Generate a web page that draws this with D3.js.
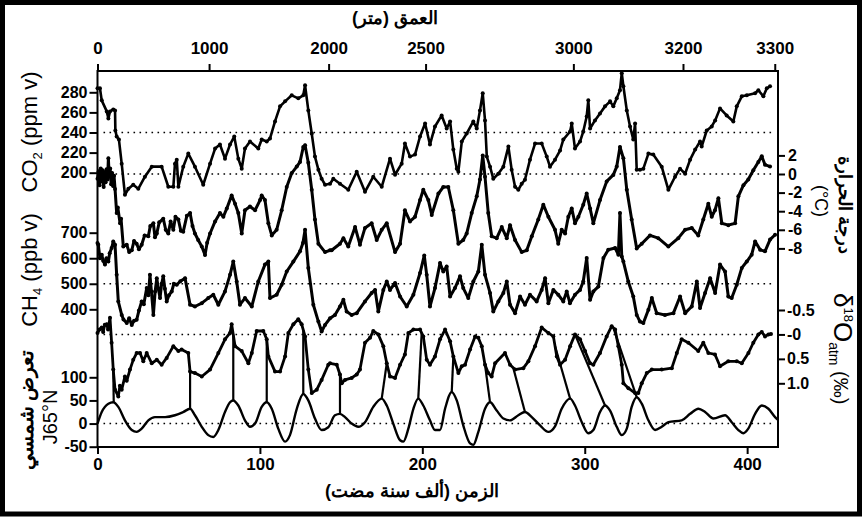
<!DOCTYPE html>
<html><head><meta charset="utf-8">
<script src="https://cdn.jsdelivr.net/npm/d3@7/dist/d3.min.js"></script>
<style>body{margin:0;background:#fff}svg{display:block}</style>
</head><body>
<script>
// ---- data (age in thousand years before present) ----
const co2 = [[0,284],[1.5,284],[2.6,272],[5.7,261],[6.7,254],[7.7,261],[9.7,263],[10.8,262],[11,242],[11.8,236],[13.2,233],[14.9,209],[16.9,178],[19,184],[22,188],[25.1,184],[29.2,196],[33.4,206],[39.5,206],[43.6,186],[46.7,186],[47.7,209],[48.8,213],[49.8,186],[52.8,206],[55.9,219],[60,206],[65.1,188],[69.3,209],[72.4,224],[75.4,228],[78.5,214],[81.6,228],[84.2,236],[86.7,214],[88.8,204],[90.8,224],[93.9,231],[99,224],[101.1,233],[104.2,231],[106.2,234],[109.3,251],[112.4,266],[115.5,271],[119.6,277],[123.6,274],[126.7,277],[127.8,287],[129.8,262],[131.9,239],[133.9,216],[136,203],[138,194],[140.1,188],[143.2,189],[145.2,194],[149.3,189],[154.4,183],[159.6,201],[164.7,181],[169.8,196],[175,186],[180.1,214],[183.2,198],[187.3,209],[189.3,229],[192.4,216],[195.5,218],[198.6,236],[201.7,249],[204.7,228],[207.8,246],[211.9,257],[215,244],[217.1,251],[219.1,223],[221.2,204],[222.2,201],[224.3,231],[227.3,239],[231.4,251],[233.5,244],[235.5,262],[237.2,279],[238.6,252],[239.7,216],[241.7,206],[243.7,194],[246.8,199],[249.9,206],[253,226],[255,203],[257.1,186],[259.1,183],[261.2,189],[263.2,193],[266.3,213],[269.4,229],[273.5,229],[276.6,216],[278.6,206],[281.7,213],[284.8,222],[286.8,233],[291,241],[292,249],[294,224],[297.1,231],[299.1,241],[301.2,256],[302.2,272],[303.3,244],[306.3,252],[309.4,259],[312.5,266],[315.6,271],[317.6,266],[319.7,274],[321.7,282],[322.8,299],[323.8,286],[325.9,262],[327.9,246],[329.9,233],[331,249],[332,203],[334,203],[336.1,204],[339.2,219],[342.2,218],[347.4,206],[351.5,183],[355.6,196],[358.7,204],[361.8,199],[364.9,213],[368,223],[371,231],[372,226],[375.1,242],[378.2,246],[380.3,252],[383.3,264],[387.4,257],[391.5,251],[393.6,266],[396.7,276],[399.8,277],[404.9,279],[406.9,282],[410,276],[412.1,284],[414.1,286]];

const temperature = [[0,-0.5],[0.7,0.3],[1.3,-1.2],[2,0.6],[2.6,-0.8],[3.2,0.4],[3.8,-1.4],[4.4,0.2],[5,-0.9],[5.6,0.5],[6.2,-0.6],[6.7,1.7],[7.2,-0.3],[7.8,0.6],[8.4,-1.1],[9,0.1],[9.6,-1.3],[10.2,-0.2],[10.8,-1.6],[11.8,-4.2],[12.5,-3.6],[13.9,-5.3],[14.5,-4.8],[15.9,-7.8],[18,-7.6],[19.5,-8.4],[21.1,-8.2],[22.5,-7.2],[24.1,-7.5],[25.5,-8.1],[27.2,-7.6],[29,-6.6],[31.3,-6.7],[32.5,-5.6],[34.4,-5.3],[35.4,-6.8],[36.5,-6.4],[38,-5.2],[40.5,-4.8],[42,-6.0],[43.6,-6.4],[45,-5.1],[46.7,-6.0],[48,-4.6],[49.8,-4.9],[51.3,-6.1],[52.8,-6.2],[55,-4.5],[57,-4.2],[58.5,-5.6],[60,-6.4],[62,-7.1],[64.2,-7.8],[66.2,-8.7],[67.5,-7.4],[69.3,-6.4],[72.4,-5.1],[75.4,-4.2],[77.5,-4.6],[79.6,-3.7],[82.6,-2.3],[84.7,-3.2],[86.7,-4.2],[88.8,-6.4],[90.8,-3.9],[93.9,-3.5],[97,-3.9],[100.1,-2.8],[101.1,-2.3],[103.1,-2.8],[105.2,-5.3],[107.3,-6.6],[110.3,-6.0],[113.4,-3.9],[116.5,-1.4],[119.6,0.1],[122.7,0.8],[124.7,1.3],[126.7,2.9],[127.8,3.1],[129.8,1.2],[131.9,-1.7],[133.9,-4.9],[136,-7.5],[140.1,-8.4],[143.2,-8.2],[144.2,-8.2],[149.3,-7.5],[151.4,-6.9],[154.4,-7.8],[158.6,-5.7],[161.6,-7.6],[164.7,-5.8],[168.8,-5.3],[171.9,-7.1],[175,-6.0],[178.1,-5.3],[183.2,-8.4],[186.3,-7.5],[189.3,-3.9],[192.4,-5.1],[195.5,-4.6],[198.6,-2.8],[200.6,-1.7],[203.7,-2.8],[205.8,-4.4],[209.9,-2.1],[212.9,-1.4],[216,-1.4],[219.1,-3.9],[222.2,-7.5],[225.2,-7.1],[227.3,-6.4],[230.4,-4.2],[233.5,-2.4],[235.5,-0.6],[237.2,2.0],[238.6,-0.3],[240.6,-4.2],[242.7,-6.7],[245.8,-6.9],[248.9,-5.7],[252,-6.9],[254,-5.5],[257.1,-7.1],[261.2,-8.4],[264.3,-8.2],[267.4,-6.7],[271.4,-4.9],[274.5,-3.3],[277.6,-4.6],[281.7,-6.0],[283.7,-7.5],[285.8,-6.0],[287.9,-6.4],[289.9,-4.6],[292,-3.7],[294,-5.3],[296.1,-4.6],[299.1,-3.3],[301.2,-2.1],[303.3,-3.7],[305.3,-5.3],[309.4,-2.8],[313.5,-0.8],[317.6,-0.1],[319.7,0.8],[321.7,2.9],[323.8,1.7],[325.9,-1.7],[328.9,-4.9],[332,-8.0],[335.1,-7.5],[340.2,-6.6],[345.3,-6.9],[351.5,-7.8],[357.6,-6.9],[361.8,-6.0],[365.9,-5.8],[369.9,-6.6],[373,-4.9],[376.1,-3.2],[378.2,-4.6],[380.2,-3.9],[382.3,-2.6],[384.4,-5.3],[388.4,-5.5],[392.6,-5.3],[394.6,-2.4],[397.7,-1.2],[400.7,-0.6],[403.8,0.4],[406.9,1.3],[409,1.9],[411,1.0],[414.1,0.8]];

const ch4 = [[0,660],[0.5,653],[1.5,600],[2.6,614],[3.5,590],[4.6,575],[5.5,600],[6.7,587],[7.5,620],[8.7,640],[9.7,666],[10.8,653],[11.8,535],[12.8,431],[14.9,378],[16,360],[18,346],[19.5,365],[21.1,339],[22.5,355],[24.1,359],[25.5,395],[27.2,431],[28.5,420],[30.3,483],[31.3,455],[32.3,535],[33.2,470],[34.4,378],[35.5,470],[36.5,522],[37.5,480],[38.5,444],[39.5,500],[40.5,529],[41.5,480],[42.6,431],[44,455],[45.7,470],[47,500],[48.8,496],[51,510],[53.9,522],[57,418],[60,411],[64.2,424],[68.2,444],[71.3,457],[74.4,418],[78.5,470],[81.6,535],[83.6,587],[85.7,509],[87.7,418],[90.8,444],[95,411],[99,509],[103.1,575],[105.2,587],[106.2,444],[110.3,457],[113.4,496],[116.5,548],[120.6,587],[124.7,627],[126.5,660],[127.8,712],[129.8,562],[132.9,418],[136,352],[138,313],[140.1,339],[143.2,365],[146.2,378],[149.3,411],[151.4,437],[153.4,391],[156.5,378],[159.6,385],[164.7,431],[168.8,464],[170.9,476],[172.9,391],[176,476],[178.1,509],[180.1,476],[183.2,503],[186.3,450],[190.4,411],[194.5,457],[198.6,542],[201.2,611],[202.7,535],[204.7,411],[207.8,483],[210.9,581],[212.9,548],[215,568],[217.1,450],[220.1,483],[223.2,529],[225.2,483],[228.3,444],[231.4,509],[234.5,548],[236.6,653],[238.6,535],[241.7,464],[243.7,391],[246.8,431],[249.9,464],[252,509],[254,418],[257.1,385],[260.2,450],[263.2,418],[266.3,457],[270.4,431],[273.5,476],[275.6,522],[277.6,424],[280.7,476],[283.7,457],[286.8,431],[288.9,470],[290.9,424],[294,457],[297.1,476],[299.1,509],[301.2,601],[303.3,437],[305.3,470],[308.4,489],[311.5,601],[314.5,633],[318.7,640],[320.7,614],[321.7,777],[322.8,607],[323.8,587],[326.8,509],[329.9,450],[332,378],[334,352],[336.1,346],[339.2,398],[341.3,444],[344.3,385],[349.4,378],[354.6,385],[358.7,450],[361.8,385],[365.9,411],[369,509],[371,405],[374.1,464],[377.2,522],[380.3,464],[383.3,575],[386.4,548],[388.4,450],[390.5,444],[393.6,496],[396.7,562],[399.8,587],[402.8,614],[404.9,666],[408,633],[411,627],[414.1,673],[417.2,692]];

const d18O = [[0,-0.03],[1.2,-0.1],[2.6,-0.14],[3.5,-0.05],[4.5,-0.2],[5.7,-0.21],[6.5,-0.1],[7.7,-0.34],[8.7,0.17],[9.7,0.72],[10.8,1.13],[12.8,1.27],[13.8,1.05],[14.9,1.13],[16.9,0.86],[18,0.95],[20,0.72],[22,0.52],[24.1,0.38],[26.2,0.38],[28.2,0.55],[30.3,0.38],[33.4,0.59],[36.5,0.52],[39.5,0.62],[42.6,0.48],[46.7,0.24],[49.8,0.34],[51.8,0.31],[55.9,0.38],[57,0.76],[60,0.79],[64.2,0.86],[69.3,0.72],[74.4,0.38],[78.5,0.10],[81.6,-0.03],[82.6,-0.21],[84.7,0.24],[88.8,0.34],[92.9,0.59],[95,0.38],[98,-0.07],[102.1,-0.07],[104.2,0.10],[105.2,0.45],[109.3,0.76],[112.4,0.76],[115.5,0.45],[117.5,-0.03],[120.6,-0.21],[123.6,-0.31],[125.7,-0.21],[127.8,0.04],[129.8,0.72],[131.9,1.20],[135,1.13],[138,0.93],[142.1,0.62],[143.2,0.59],[147.3,0.62],[149.3,0.82],[150.4,1.00],[152.4,0.93],[156.5,0.89],[159.6,0.82],[161.6,0.72],[164.7,0.17],[167.8,0.07],[169.8,-0.07],[172.9,0.00],[176,0.24],[178.1,0.59],[180.1,0.86],[183.2,0.89],[186.3,0.62],[189.3,0.41],[191.4,-0.03],[194.5,-0.10],[198.6,-0.10],[200.6,0.04],[202.7,0.52],[204.7,0.62],[207.8,0.45],[210.9,0.10],[214,-0.10],[217.1,0.14],[219.1,0.45],[222.2,0.79],[224.3,0.65],[226.3,0.62],[229.4,0.31],[232.5,0.04],[234.5,0.07],[236.6,0.24],[238.6,0.62],[240.6,0.79],[242.7,0.86],[244.8,0.59],[250.9,0.38],[254,0.62],[257.1,0.72],[262.2,0.69],[265.3,0.55],[269.4,0.24],[273.5,-0.14],[277.6,-0.03],[280.7,0.04],[282.8,0.45],[284.8,0.62],[287.9,0.52],[291,0.24],[294,0.00],[297.1,0.10],[300.2,0.34],[303.3,0.59],[305.3,0.62],[309.4,0.38],[313.5,0.04],[316.6,-0.17],[318.7,-0.10],[320.7,0.24],[322.8,0.62],[323.8,1.00],[326.9,1.10],[331,1.20],[333,1.20],[335.1,1.00],[338.2,0.79],[341.3,0.72],[347.4,0.72],[353.6,0.69],[356.7,0.38],[359.7,0.10],[363.8,0.17],[369.9,0.34],[373,0.17],[376.1,0.38],[380.2,0.41],[383.3,0.65],[388.4,0.55],[393.6,0.55],[396.7,0.59],[400.8,0.38],[403.8,0.17],[406.9,0.00],[409,-0.05],[411,0.04],[413.1,0.00],[414.7,-0.01]];

const insolation = [[0,0],[2.6,25],[6.7,43],[9.7,46],[12.8,36],[16.9,7],[21.1,-14],[24.1,-18],[27.2,-11],[31.3,7],[35.4,14],[41.6,14],[47.7,18],[52.8,25],[57,32],[60,18],[64.2,-7],[68.2,-25],[71.3,-29],[74.4,-14],[78.5,25],[81.6,46],[83.6,50],[86.7,39],[90.8,7],[93.9,-7],[97,0],[101.1,36],[104.2,46],[107.3,32],[111.3,-11],[115.5,-39],[118.5,-25],[122.7,32],[126.7,64],[129.8,50],[133.9,11],[138,-14],[142.1,-8],[146.2,18],[149.3,21],[152.4,14],[156.5,0],[160.6,-7],[164.7,3],[169.8,36],[175,54],[178.1,39],[182.1,0],[186.3,-36],[188.3,-39],[191.4,-11],[194.5,32],[197.5,54],[200.6,39],[204.7,7],[207.8,-14],[210.9,-14],[214,32],[218.1,68],[221.2,50],[225.2,-4],[229.4,-43],[231.4,-46],[234.5,-18],[238.6,32],[241.7,46],[245.8,28],[249.9,11],[254,7],[259.1,18],[263.2,25],[267.4,14],[272.5,-4],[277.6,-18],[281.7,-6],[285.8,32],[291,54],[294,39],[298.2,3],[302.2,-21],[305.3,-14],[309.4,25],[312.5,39],[315.6,28],[319.7,-7],[322.8,-25],[325.9,-11],[328.9,36],[332,57],[335.1,43],[339.2,7],[343.3,-14],[347.4,-7],[351.5,3],[359.7,7],[364.9,21],[370,32],[374.1,25],[379.2,11],[386.4,18],[390.5,3],[394.6,-14],[397.7,-21],[400.7,-11],[404.9,21],[409,39],[413.1,32],[417.2,14],[419,8]];

// tie lines: [age on δ18O curve, age of insolation peak]
const ties = [[9.7,10],[57,57],[83.6,83.6],[104.2,104.2],[126.7,126.7],[149.3,149.3],[178.1,175],[199.6,197.5],[219.1,218.1],[238.6,241.7],[256,263.2],[281.7,291],[294,312.5],[317.6,332]];

const ageTicks = [0,100,200,300,400];
const depthTicks = [0,1000,2000,2500,3000,3200,3300];
const depthTickAges = [0,68.7,142.3,202,293,360.5,417];
const co2Ticks = [200,220,240,260,280];
const ch4Ticks = [400,500,600,700];
const insTicks = [-50,0,50,100];
const tempTicks = [2,0,-2,-4,-6,-8];
const d18OTicks = [-0.5,0,0.5,1.0];
const d18OLabels = ["-0.5","-0","0.5","1.0"];

// ---- drawing ----
const W = 862, H = 517;
const L = 97.5, R = 778, T = 71, B = 447;
const svg = d3.select("body").append("svg").attr("width", W).attr("height", H)
  .style("font-family", "'Liberation Sans', Arial, sans-serif");

const x = d3.scaleLinear([0, 419], [L, R]);
const yCO2 = d3.scaleLinear([200, 280], [172.7, 92.3]);
const yT = d3.scaleLinear([0, 2], [174, 155.4]);
const yCH4 = d3.scaleLinear([400, 700], [309.3, 232.7]);
const yD = d3.scaleLinear([-0.5, 1.0], [310, 383.3]);
const yI = d3.scaleLinear([-50, 100], [446.7, 377.3]);

svg.append("rect").attr("width", W).attr("height", H).attr("fill", "#fff");
svg.append("rect").attr("x", 2.5).attr("y", 2.5).attr("width", W - 5).attr("height", H - 5.5)
  .attr("fill", "none").attr("stroke", "#000").attr("stroke-width", 5);

// dotted reference lines
const dots = [yCO2(240), yT(0), yCH4(500), yD(0), yI(0)];
svg.append("g").selectAll("line").data(dots).join("line")
  .attr("x1", L + 6).attr("x2", R - 4).attr("y1", d => d).attr("y2", d => d)
  .attr("stroke", "#000").attr("stroke-width", 1.6).attr("stroke-dasharray", "1.6,4.4");

// plot box
svg.append("rect").attr("x", L).attr("y", T).attr("width", R - L).attr("height", B - T)
  .attr("fill", "none").attr("stroke", "#000").attr("stroke-width", 2);

function styleAxis(g, size) {
  g.select(".domain").remove();
  g.selectAll(".tick line").attr("stroke", "#000").attr("stroke-width", 2);
  g.selectAll(".tick text").attr("fill", "#000").style("font-size", size + "px").style("font-weight", "bold");
}
const fmt = d => String(d);
svg.append("g").attr("transform", `translate(${L},0)`)
  .call(d3.axisLeft(yCO2).tickValues(co2Ticks).tickSize(8).tickPadding(2).tickFormat(fmt)).call(g => styleAxis(g, 16));
svg.append("g").attr("transform", `translate(${L},0)`)
  .call(d3.axisLeft(yCH4).tickValues(ch4Ticks).tickSize(8).tickPadding(2).tickFormat(fmt)).call(g => styleAxis(g, 16));
svg.append("g").attr("transform", `translate(${L},0)`)
  .call(d3.axisLeft(yI).tickValues(insTicks).tickSize(8).tickPadding(2).tickFormat(fmt)).call(g => styleAxis(g, 16));
svg.append("g").attr("transform", `translate(${R},0)`)
  .call(d3.axisRight(yT).tickValues(tempTicks).tickSize(7).tickPadding(3).tickFormat(fmt)).call(g => styleAxis(g, 16));
svg.append("g").attr("transform", `translate(${R},0)`)
  .call(d3.axisRight(yD).tickValues(d18OTicks).tickSize(7).tickPadding(2).tickFormat((d, i) => d18OLabels[i])).call(g => styleAxis(g, 16));
svg.append("g").attr("transform", `translate(0,${B})`)
  .call(d3.axisBottom(x).tickValues(ageTicks).tickSize(7).tickPadding(4).tickFormat(fmt)).call(g => styleAxis(g, 17));
svg.append("g").attr("transform", `translate(0,${T})`)
  .call(d3.axisTop(x).tickValues(depthTickAges).tickSize(7).tickPadding(10).tickFormat((d, i) => depthTicks[i])).call(g => styleAxis(g, 17));

// curves
const plot = svg.append("g");
function series(data, y, width, withDots, curve) {
  const line = d3.line().x(d => x(d[0])).y(d => y(d[1])).curve(curve || d3.curveLinear);
  plot.append("path").datum(data).attr("d", line).attr("fill", "none")
    .attr("stroke", "#000").attr("stroke-width", width).attr("stroke-linejoin", "round");
  if (withDots) plot.append("g").selectAll("circle").data(data).join("circle")
    .attr("cx", d => x(d[0])).attr("cy", d => y(d[1])).attr("r", 2).attr("fill", "#000");
}
series(co2, yCO2, 2.6, true);
series(temperature, yT, 3, true);
series(ch4, yCH4, 3, true);
series(d18O, yD, 2.8, true);
series(insolation, yI, 2.4, false, d3.curveMonotoneX);

// tie lines between δ18O and insolation
function interp(data, a) {
  const i = d3.bisector(d => d[0]).left(data, a);
  if (i <= 0) return data[0][1];
  if (i >= data.length) return data[data.length - 1][1];
  const p = data[i - 1], q = data[i];
  return p[1] + (q[1] - p[1]) * (a - p[0]) / (q[0] - p[0] || 1);
}
plot.append("g").selectAll("line").data(ties).join("line")
  .attr("x1", d => x(d[0])).attr("y1", d => yD(interp(d18O, d[0])))
  .attr("x2", d => x(d[1])).attr("y2", d => yI(interp(insolation, d[1])))
  .attr("stroke", "#000").attr("stroke-width", 2.2);

// titles
const bold = "bold";
svg.append("text").attr("x", 395).attr("y", 24).attr("text-anchor", "middle").attr("direction", "rtl")
  .style("font-size", "18px").style("font-weight", bold).text("العمق (متر)");
svg.append("text").attr("x", 412).attr("y", 497).attr("text-anchor", "middle").attr("direction", "rtl")
  .style("font-size", "18px").style("font-weight", bold).text("الزمن (ألف سنة مضت)");

function vlabel(xp, yp, rot, size) {
  return svg.append("text").attr("transform", `translate(${xp},${yp}) rotate(${rot})`)
    .attr("text-anchor", "middle").style("font-size", size + "px");
}
const t1 = vlabel(37, 132, -90, 22);
t1.append("tspan").text("CO");
t1.append("tspan").attr("dy", 5).style("font-size", "13px").text("2");
t1.append("tspan").attr("dy", -5).text(" (ppm v)");
const t2 = vlabel(37, 270, -90, 22);
t2.append("tspan").text("CH");
t2.append("tspan").attr("dy", 5).style("font-size", "13px").text("4");
t2.append("tspan").attr("dy", -5).text(" (ppb v)");
vlabel(33, 410, -90, 20).attr("direction", "rtl").style("font-weight", bold).text("تعرض شمسي");
vlabel(57, 417, -90, 20).text("J65°N");

vlabel(839, 205, 90, 18).attr("direction", "rtl").style("font-weight", bold).text("درجة الحرارة");
vlabel(815, 201, 90, 18).text("(°C)");

const t3 = svg.append("text").attr("transform", `translate(834,293) rotate(90)`)
  .attr("text-anchor", "start").style("font-size", "26px");
t3.append("tspan").text("δ");
t3.append("tspan").attr("dy", -10).style("font-size", "13px").text("18");
t3.append("tspan").attr("dy", 10).text("O");
t3.append("tspan").attr("dy", 5).style("font-size", "14px").text("atm");
t3.append("tspan").attr("dy", -5).style("font-size", "20px").text("  (‰)");
</script>
</body></html>
